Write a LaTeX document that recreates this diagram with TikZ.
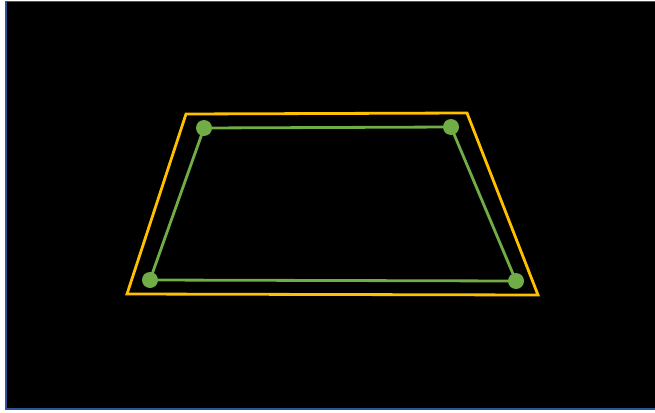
\documentclass[tikz,border=0pt]{standalone}
\begin{document}
\begin{tikzpicture}[x=1pt,y=-1pt,
  orangeline/.style={draw=orangeC, line width=2.8pt, line join=miter},
  greenline/.style={draw=greenC, line width=2.8pt},
  dot/.style={circle, fill=greenC, inner sep=0pt, minimum size=16pt}]
\definecolor{orangeC}{HTML}{FFC000}
\definecolor{greenC}{HTML}{70AD47}
\definecolor{borderC}{HTML}{2F5597}
\useasboundingbox (0,0) rectangle (655,412);
\fill[white] (0,0) rectangle (655,412);
\filldraw[fill=black, draw=borderC, line width=1.8pt] (6,1.5) rectangle (660,409);
\coordinate (o1) at (186,114);
\coordinate (o2) at (467,113);
\coordinate (o3) at (538,295);
\coordinate (o4) at (127,294);
\draw[orangeline] (o1) -- (o2) -- (o3) -- (o4) -- cycle;
\node[dot] (g1) at (204,128) {};
\node[dot] (g2) at (451,127) {};
\node[dot] (g3) at (516,281) {};
\node[dot] (g4) at (150,280) {};
\draw[greenline] (g1.center) -- (g2.center) -- (g3.center) -- (g4.center) -- cycle;
\end{tikzpicture}
\end{document}
